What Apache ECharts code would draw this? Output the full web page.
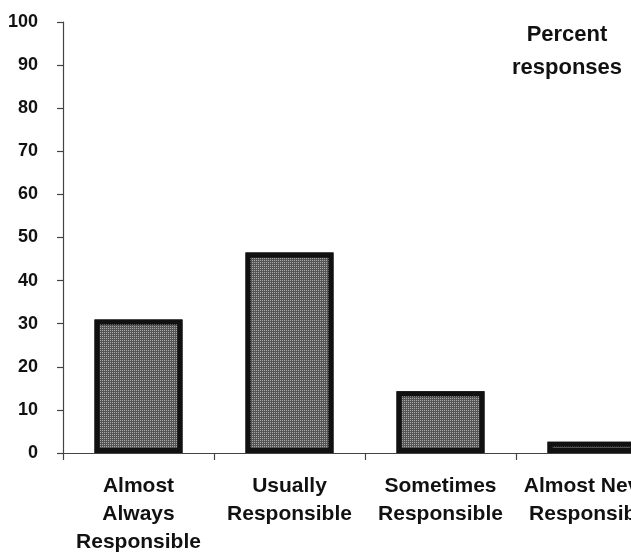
<!DOCTYPE html>
<html>
<head>
<meta charset="utf-8">
<script src="https://cdn.jsdelivr.net/npm/echarts@6/dist/echarts.min.js"></script>
<style>html,body{margin:0;padding:0;background:#fff;overflow:hidden;width:631px;height:557px;}#c{width:668px;height:557px;}</style>
</head>
<body>
<div id="c"></div>
<script>
const categories = ["Almost\nAlways\nResponsible", "Usually\nResponsible", "Sometimes\nResponsible", "Almost Never\nResponsible"];
const values = [31, 46.5, 14.3, 2.6];
const yTicks = [0, 10, 20, 30, 40, 50, 60, 70, 80, 90, 100];
const annotation = ["Percent", "responses"];

const chart = echarts.init(document.getElementById('c'), null, {renderer: 'canvas'});
const font = '"Liberation Sans", Arial, sans-serif';
chart.setOption({
  animation: false,
  backgroundColor: '#fff',
  grid: {left: 63, top: 22, bottom: 104, right: 1, containLabel: false},
  xAxis: {
    type: 'category',
    data: categories,
    axisLine: {lineStyle: {color: '#444', width: 1.2}},
    axisTick: {show: true, length: 7, lineStyle: {color: '#444', width: 1.2}},
    axisLabel: {color: '#111', fontFamily: font, fontWeight: 'bold', fontSize: 21, lineHeight: 28, margin: 19, interval: 0}
  },
  yAxis: {
    type: 'value',
    min: yTicks[0], max: yTicks[yTicks.length - 1], interval: 10,
    splitLine: {show: false},
    axisLine: {show: true, lineStyle: {color: '#444', width: 1.2}},
    axisTick: {show: true, length: 6, lineStyle: {color: '#444', width: 1.2}},
    axisLabel: {color: '#111', fontFamily: font, fontWeight: 'bold', fontSize: 18, margin: 25}
  },
  series: [{
    type: 'bar',
    data: values,
    barWidth: 88,
    itemStyle: {
      color: '#555', borderColor: '#111', borderWidth: 5,
      decal: {symbol: 'rect', symbolSize: 1, color: 'rgba(185,185,185,0.85)', dashArrayX: [1, 1], dashArrayY: [1, 1]}
    }
  }],
  graphic: [
    {type: 'text', x: 567, y: 35, style: {text: annotation[0], fill: '#111', font: 'bold 22px ' + font, align: 'center', verticalAlign: 'middle'}},
    {type: 'text', x: 567, y: 68, style: {text: annotation[1], fill: '#111', font: 'bold 22px ' + font, align: 'center', verticalAlign: 'middle'}}
  ]
});
</script>
</body>
</html>
